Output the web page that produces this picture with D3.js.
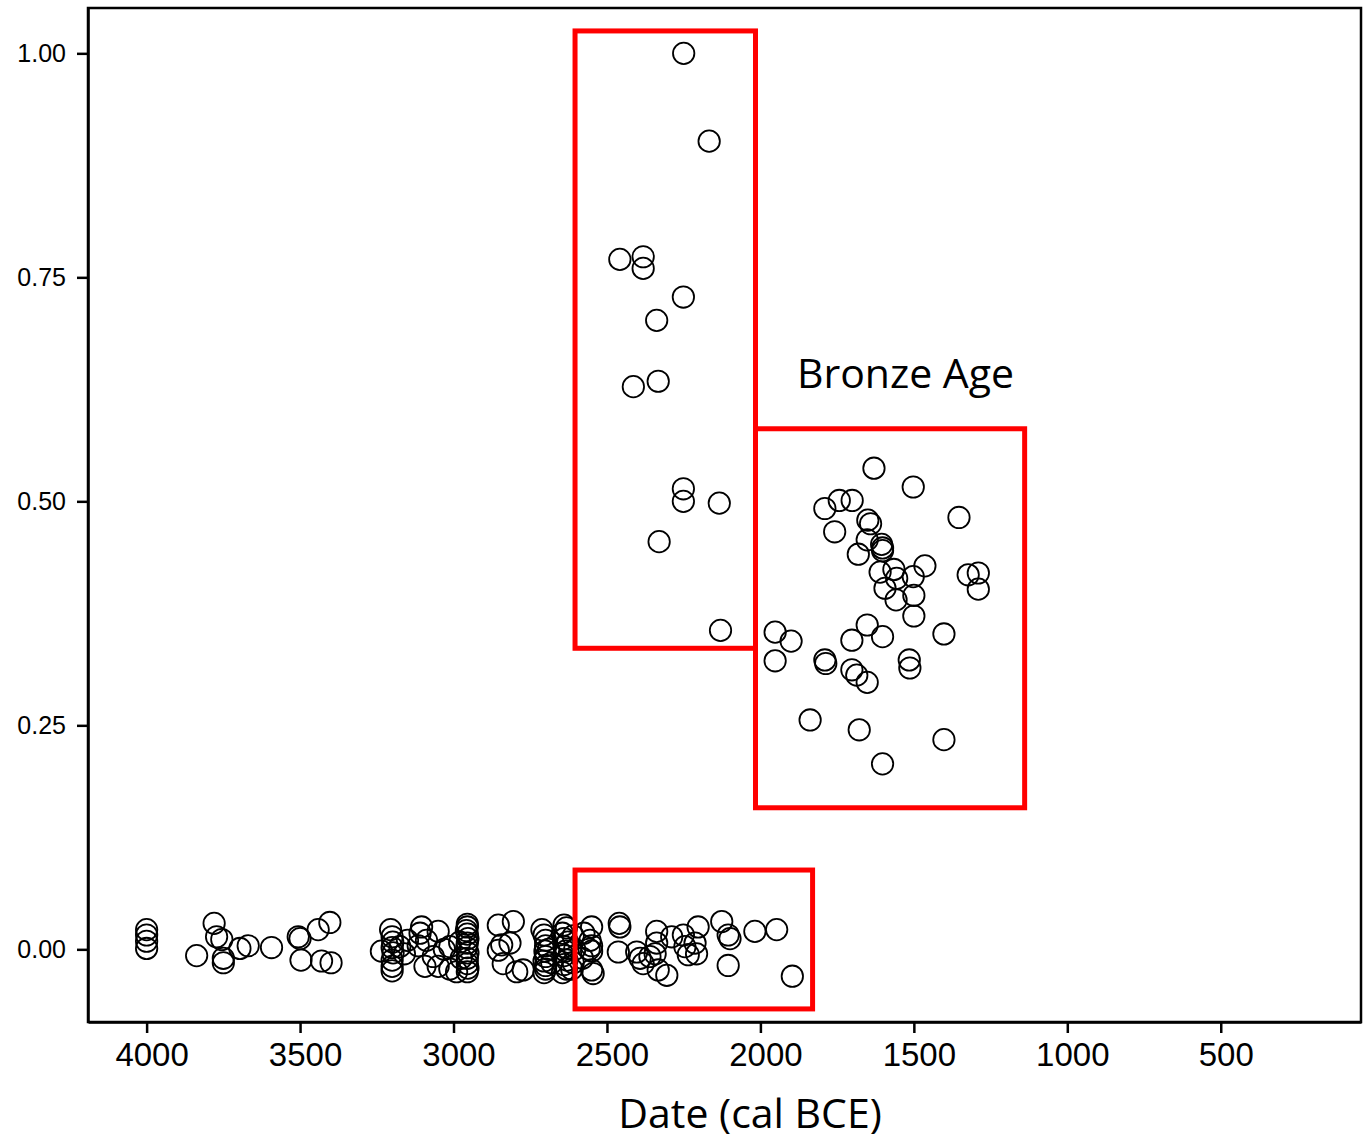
<!DOCTYPE html>
<html>
<head>
<meta charset="utf-8">
<script src="https://cdn.jsdelivr.net/npm/d3@7"></script>
<style>
  body { margin: 0; background: #fff; }
</style>
</head>
<body>
<div id="chart"></div>
<script>
// [date cal BCE, value]
const lowPoints = [
    [4000, 0.022], [4000, 0.016], [4000, 0.009], [4000, 0.001],
    [3837, -0.007], [3780, 0.029], [3772, 0.014], [3755, 0.011], [3750, -0.010], [3750, -0.015],
    [3696, 0.001], [3669, 0.004], [3593, 0.002], [3506, 0.014], [3500, 0.012], [3497, -0.012],
    [3441, 0.022], [3403, 0.030], [3430, -0.013], [3399, -0.015],
    [3205, 0.022], [3200, 0.014], [3198, 0.008], [3200, 0.002], [3197, -0.004], [3200, -0.012],
    [3200, -0.019], [3200, -0.024], [3235, -0.002], [3175, 0.003], [3160, -0.005], [3150, 0.010],
    [3104, 0.025], [3109, 0.018], [3088, 0.010], [3115, 0.004], [3066, -0.008], [3050, -0.019],
    [3093, -0.019], [3050, 0.020], [3012, 0.003], [3012, -0.022], [3030, 0.000],
    [2955, 0.028], [2955, 0.025], [2958, 0.021], [2955, 0.017], [2953, 0.012], [2955, 0.007],
    [2957, 0.002], [2953, -0.004], [2955, -0.010], [2955, -0.016], [2953, -0.021], [2955, -0.025],
    [2980, 0.008], [2975, -0.010], [2990, -0.025],
    [2854, 0.027], [2805, 0.031], [2854, -0.001], [2843, 0.005], [2816, 0.007], [2838, -0.016],
    [2794, -0.025], [2773, -0.023],
    [2712, 0.022], [2705, 0.016], [2700, 0.010], [2700, 0.004], [2702, -0.002], [2700, -0.008],
    [2705, -0.013], [2700, -0.018], [2700, -0.022], [2705, -0.026], [2690, 0.000], [2680, -0.015],
    [2640, 0.027], [2632, 0.024], [2645, 0.018], [2640, 0.012], [2628, 0.008], [2640, 0.003],
    [2635, -0.002], [2640, -0.007], [2630, -0.012], [2640, -0.017], [2632, -0.022], [2645, -0.026],
    [2610, 0.015], [2605, 0.000], [2610, -0.015], [2615, -0.022],
    [2550, 0.025], [2555, 0.010], [2550, 0.004], [2558, 0.000], [2550, -0.002], [2550, -0.023],
    [2545, -0.027], [2575, 0.018], [2580, -0.010],
    [2460, 0.029], [2458, 0.025], [2463, -0.003], [2403, -0.003], [2392, -0.010], [2382, -0.016],
    [2338, 0.020], [2338, 0.007], [2343, -0.005], [2333, -0.023], [2305, -0.029], [2360, -0.008],
    [2289, 0.014], [2251, 0.016], [2246, 0.003], [2235, -0.006], [2213, 0.007], [2208, -0.005],
    [2203, 0.025], [2126, 0.031], [2105, 0.016], [2099, 0.012], [2105, -0.018], [2018, 0.020],
    [1947, 0.022], [1896, -0.030]
];

const highPoints = [
    [2250, 1.000], [2167, 0.902], [2458, 0.770], [2382, 0.773], [2382, 0.760], [2251, 0.728],
    [2338, 0.702], [2414, 0.628], [2333, 0.634], [2251, 0.514], [2251, 0.500], [2134, 0.498],
    [2330, 0.455], [2130, 0.356]
];

const bronzePoints = [
    [1630, 0.537], [1502, 0.516], [1353, 0.482], [1790, 0.492], [1743, 0.501], [1701, 0.501],
    [1650, 0.479], [1641, 0.475], [1758, 0.466], [1652, 0.457], [1605, 0.452], [1602, 0.448],
    [1602, 0.445], [1681, 0.441], [1464, 0.428], [1610, 0.421], [1565, 0.424], [1502, 0.416],
    [1556, 0.414], [1594, 0.403], [1500, 0.395], [1558, 0.390], [1500, 0.372], [1323, 0.418],
    [1290, 0.420], [1290, 0.402],
    [1952, 0.354], [1900, 0.344], [1952, 0.322], [1790, 0.323], [1787, 0.319], [1702, 0.345],
    [1652, 0.362], [1602, 0.349], [1402, 0.352], [1702, 0.312], [1686, 0.306], [1652, 0.298],
    [1515, 0.323], [1513, 0.314], [1838, 0.256], [1678, 0.245], [1402, 0.234], [1602, 0.207]
];

// highlight boxes: [date left, date right, value top, value bottom]
const boxes = [
    [2604, 2016, 1.025, 0.336],
    [2016, 1139, 0.581, 0.158],
    [2604, 1830, 0.0885, -0.0665]
];

const xTicks = [4000, 3500, 3000, 2500, 2000, 1500, 1000, 500];
const yTicks = [0, 0.25, 0.5, 0.75, 1];

const width = 1363;
const height = 1139;
const margin = { top: 8, right: 2, bottom: 117, left: 88 };

const svg = d3
    .select("#chart")
    .append("svg")
    .attr("width", width)
    .attr("height", height);

const x = d3.scaleLinear()
    .domain([4191, 43])
    .range([margin.left, width - margin.right]);

const y = d3.scaleLinear()
    .domain([-0.0811, 1.0506])
    .range([height - margin.bottom, margin.top]);

// frame
svg.append("rect")
    .attr("x", margin.left)
    .attr("y", margin.top)
    .attr("width", width - margin.right - margin.left)
    .attr("height", height - margin.bottom - margin.top)
    .style("fill", "none")
    .style("stroke", "#000")
    .style("stroke-width", 2.5);

const xAxis = svg.append("g")
    .attr("transform", `translate(0, ${height - margin.bottom})`)
    .call(d3.axisBottom(x).tickValues(xTicks).tickSize(11).tickSizeOuter(0).tickPadding(10).tickFormat(d3.format("d")));

const yAxis = svg.append("g")
    .attr("transform", `translate(${margin.left}, 0)`)
    .call(d3.axisLeft(y).tickValues(yTicks).tickSize(11).tickSizeOuter(0).tickPadding(11).tickFormat(d3.format(".2f")));

xAxis.select(".domain").style("stroke-width", 2.5);
yAxis.select(".domain").style("stroke-width", 2.5);
xAxis.selectAll(".tick line").style("stroke-width", 2.5);
yAxis.selectAll(".tick line").style("stroke-width", 2.5);

xAxis.selectAll("text")
    .attr("dx", 5)
    .style("font-family", "'Liberation Sans', Arial, sans-serif")
    .style("font-size", "33px")
    .style("fill", "#000");

yAxis.selectAll("text")
    .style("font-family", "'Liberation Sans', Arial, sans-serif")
    .style("font-size", "25px")
    .style("fill", "#000");

// axis title
svg.append("text")
    .attr("x", 750)
    .attr("y", 1128)
    .attr("text-anchor", "middle")
    .style("font-family", "'Open Sans', sans-serif")
    .style("font-size", "41px")
    .text("Date (cal BCE)");

// points
const allPoints = lowPoints.concat(highPoints, bronzePoints);

svg.append("g")
    .selectAll("circle")
    .data(allPoints)
    .join("circle")
    .attr("cx", d => x(d[0]))
    .attr("cy", d => y(d[1]))
    .attr("r", 10.7)
    .style("fill", "none")
    .style("stroke", "#000")
    .style("stroke-width", 1.8);

// red boxes
svg.append("g")
    .selectAll("rect")
    .data(boxes)
    .join("rect")
    .attr("x", d => x(d[0]))
    .attr("y", d => y(d[2]))
    .attr("width", d => x(d[1]) - x(d[0]))
    .attr("height", d => y(d[3]) - y(d[2]))
    .style("fill", "none")
    .style("stroke", "#ff0000")
    .style("stroke-width", 5);

svg.append("text")
    .attr("x", x(1881))
    .attr("y", y(0.627))
    .style("font-family", "'Open Sans', sans-serif")
    .style("font-size", "41px")
    .text("Bronze Age");
</script>
</body>
</html>
